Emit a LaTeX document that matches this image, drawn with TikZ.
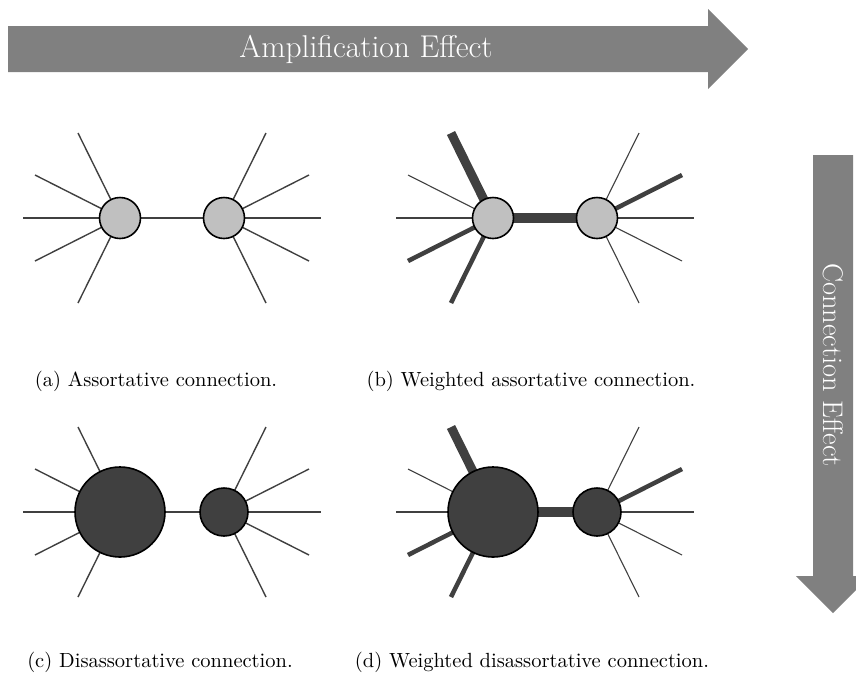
\documentclass[tikz,border=0pt]{standalone}
\usetikzlibrary{backgrounds}
\definecolor{arrowgray}{gray}{0.5}
\definecolor{edgegray}{HTML}{404040}
\definecolor{lightnode}{HTML}{C0C0C0}
\definecolor{darknode}{HTML}{404040}
\tikzset{
  vert/.style={circle, draw=black, line width=1.6pt, inner sep=0pt, minimum size=#1},
  spoke/.style={draw=edgegray, line width=#1, line cap=butt},
  arrowtext/.style={text=white, inner sep=0pt},
  captext/.style={anchor=base, inner sep=0pt},
}
\newcommand{\captxt}[1]{\scalebox{2.05}{\fontsize{10}{12}\selectfont #1}}
% #1 node, #2 side sign, #3-#7 spoke widths (up-up, up, horizontal, down, down-down)
\newcommand{\mkspokes}[7]{%
  \draw[spoke=#3] (#1.center) -- ++(#2*42,-85);
  \draw[spoke=#4] (#1.center) -- ++(#2*85,-43);
  \draw[spoke=#5] (#1.center) -- ++(#2*97,0);
  \draw[spoke=#6] (#1.center) -- ++(#2*85,43);
  \draw[spoke=#7] (#1.center) -- ++(#2*42,85);
}
\begin{document}
\begin{tikzpicture}[x=1pt,y=-1pt]
\useasboundingbox (0,0) rectangle (856,673);
\clip (0,0) rectangle (856,673);
% big arrows
\fill[arrowgray] (8,26) -- (708,26) -- (708,9) -- (748,49) -- (708,89) -- (708,72) -- (8,72) -- cycle;
\node[arrowtext, font=\fontsize{31.5}{34}\selectfont] (amp) at (366,49) {Amplification Effect};
\fill[arrowgray] (813,155) -- (853,155) -- (853,576) -- (870,576) -- (833,613) -- (796,576) -- (813,576) -- cycle;
\node[arrowtext, font=\fontsize{28.4}{31}\selectfont, rotate=-90] (con) at (833,365) {Connection Effect};
% nodes
\node[vert=41pt, fill=lightnode] (a1) at (120,218) {};
\node[vert=41pt, fill=lightnode] (a2) at (224,218) {};
\node[vert=41pt, fill=lightnode] (b1) at (493,218) {};
\node[vert=41pt, fill=lightnode] (b2) at (597,218) {};
\node[vert=90pt, fill=darknode] (c1) at (120,512) {};
\node[vert=48pt, fill=darknode] (c2) at (224,512) {};
\node[vert=90pt, fill=darknode] (d1) at (493,512) {};
\node[vert=48pt, fill=darknode] (d2) at (597,512) {};
\begin{pgfonlayer}{background}
  % (a)
  \draw[spoke=1.4] (a1.center) -- (a2.center);
  \mkspokes{a1}{-1}{1.4}{1.4}{1.4}{1.4}{1.4}
  \mkspokes{a2}{1}{1.4}{1.4}{1.4}{1.4}{1.4}
  % (b)
  \draw[spoke=10] (b1.center) -- (b2.center);
  \mkspokes{b1}{-1}{9}{1.1}{1.1}{4.5}{4.5}
  \mkspokes{b2}{1}{1.1}{4.5}{1.1}{1.1}{1.1}
  % (c)
  \draw[spoke=1.4] (c1.center) -- (c2.center);
  \mkspokes{c1}{-1}{1.4}{1.4}{1.4}{1.4}{1.4}
  \mkspokes{c2}{1}{1.4}{1.4}{1.4}{1.4}{1.4}
  % (d)
  \draw[spoke=10] (d1.center) -- (d2.center);
  \mkspokes{d1}{-1}{9}{1.1}{1.1}{4.5}{4.5}
  \mkspokes{d2}{1}{1.1}{4.5}{1.1}{1.1}{1.1}
\end{pgfonlayer}
% captions
\node[captext] (capa) at (156,386) {\captxt{(a) Assortative connection.}};
\node[captext] (capb) at (531,386) {\captxt{(b) Weighted assortative connection.}};
\node[captext] (capc) at (160,667) {\captxt{(c) Disassortative connection.}};
\node[captext] (capd) at (532,667) {\captxt{(d) Weighted disassortative connection.}};
\end{tikzpicture}
\end{document}
